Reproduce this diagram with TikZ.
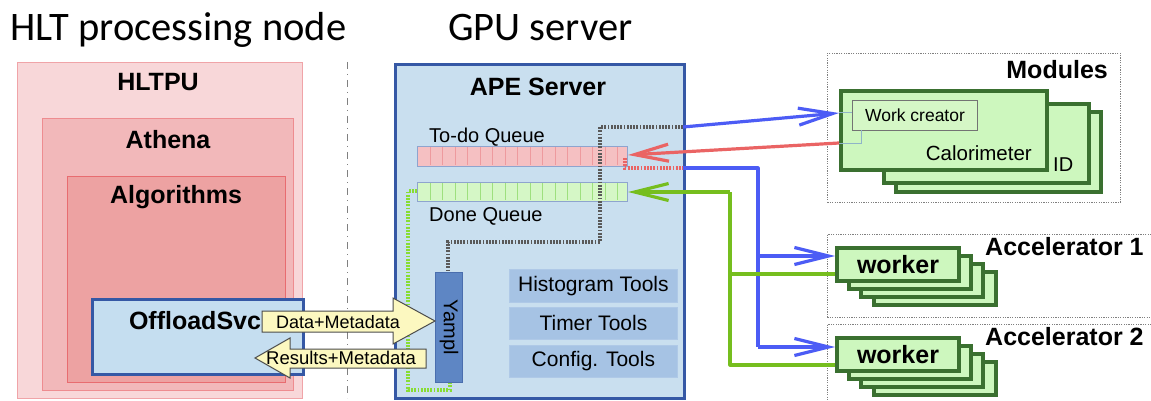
\documentclass[tikz,border=0pt]{standalone}
\usepackage{fontspec}
\setmainfont{Liberation Sans}
\newfontfamily\titlefont{Carlito}
\usetikzlibrary{arrows.meta}

\definecolor{hltfill}{HTML}{F8D7D9}
\definecolor{hltdraw}{HTML}{F0A4A8}
\definecolor{athfill}{HTML}{F2B8BA}
\definecolor{athdraw}{HTML}{EE8C90}
\definecolor{algfill}{HTML}{EDA2A2}
\definecolor{algdraw}{HTML}{E86C70}
\definecolor{boxblue}{HTML}{3558A5}
\definecolor{offfill}{HTML}{C5DEF0}
\definecolor{apefill}{HTML}{C9DFEF}
\definecolor{toolfill}{HTML}{A6C3E4}
\definecolor{yamplfill}{HTML}{5E86C4}
\definecolor{yampldraw}{HTML}{4A6EAE}
\definecolor{todofill}{HTML}{F5C0C2}
\definecolor{todocell}{HTML}{EE9A9E}
\definecolor{queuedraw}{HTML}{8EA4CE}
\definecolor{donefill}{HTML}{D5F7C6}
\definecolor{donecell}{HTML}{9EE07E}
\definecolor{modfill}{HTML}{CDF7BE}
\definecolor{moddraw}{HTML}{3A7030}
\definecolor{flowblue}{HTML}{4C5CF5}
\definecolor{flowred}{HTML}{EA6464}
\definecolor{flowgreen}{HTML}{76BE1E}
\definecolor{dotgreen}{HTML}{88DD33}
\definecolor{msgfill}{HTML}{FCF8C0}
\definecolor{linkblue}{HTML}{8FB4C8}

\begin{document}
\begin{tikzpicture}[x=1pt,y=-1pt,
  rbox/.style={draw, rectangle, anchor=north west, inner sep=0pt},
  layer/.style={rbox, line width=1.2pt},
  bluebox/.style={rbox, draw=boxblue, line width=3pt},
  toolbox/.style={rbox, draw=toolfill!90!white, fill=toolfill, line width=0.8pt},
  queuebar/.style={rbox, draw=queuedraw, line width=1pt},
  frame/.style={rbox, draw=gray, line width=0.9pt, dash pattern=on 1.2pt off 1.2pt},
  modbox/.style={rbox, draw=moddraw, fill=modfill, line width=4pt},
  heading/.style={font=\bfseries\fontsize{25}{28}\selectfont, inner sep=0pt},
  plain/.style={font=\fontsize{20}{24}\selectfont, inner sep=0pt},
  title/.style={font=\titlefont\fontsize{40.5}{44}\selectfont, inner sep=0pt, anchor=base west},
  barb/.style={-{Straight Barb[length=34pt,width=17pt,line width=3.2pt]}},
  flow/.style={line width=3.2pt, line join=round},
  dotted path/.style={line width=3.2pt, dash pattern=on 1.8pt off 1.4pt},
  msg/.style={draw=black!70, fill=msgfill, line width=1pt, line join=miter}
]
\useasboundingbox[fill=white] (0,0) rectangle (1151,401);

% section titles and divider
\node[title] (t1) at (10,41) {HLT processing node};
\node[title] (t2) at (448,41) {GPU server};
\draw[gray, line width=1pt, dash pattern=on 7pt off 5pt on 1pt off 5pt] (347,62) -- (347,398);

% HLT processing node: nested layers
\node[layer, draw=hltdraw, fill=hltfill, minimum width=285pt, minimum height=336pt] (hltpu) at (17,62) {};
\node[layer, draw=athdraw, fill=athfill, minimum width=251pt, minimum height=272pt] (athena) at (42,118) {};
\node[layer, draw=algdraw, fill=algfill, minimum width=218pt, minimum height=206pt] (algs) at (67,176) {};
\node[bluebox, fill=offfill, minimum width=211pt, minimum height=75pt] (offload) at (91,298) {};
\node[heading] (hltpulbl) at (158,82) {HLTPU};
\node[heading] (athlbl) at (168,140) {Athena};
\node[heading] (alglbl) at (176,197) {Algorithms};
\node[heading] (offlbl) at (195,321) {OffloadSvc};

% APE server
\node[bluebox, fill=apefill, minimum width=289pt, minimum height=334pt] (ape) at (394,63) {};
\node[heading] (apelbl) at (538,87) {APE Server};

% queues
\node[queuebar, fill=todofill, minimum width=210pt, minimum height=20pt] (todo) at (417,146) {};
\foreach \i in {0,...,15} \draw[todocell, line width=1pt] (430+12.5*\i,147) -- (430+12.5*\i,165);
\node[queuebar, fill=donefill, minimum width=210pt, minimum height=19pt] (done) at (417,182) {};
\foreach \i in {0,...,15} \draw[donecell, line width=1pt] (430+12.5*\i,183) -- (430+12.5*\i,200);
\node[plain, anchor=west] (todolbl) at (429,137) {To-do Queue};
\node[plain, anchor=west] (donelbl) at (429,216) {Done Queue};

% yampl and tools
\node[rbox, draw=yampldraw, fill=yamplfill, line width=1pt, minimum width=27pt, minimum height=110pt] (yampl) at (435,272) {};
\node[plain, rotate=-90] (yampllbl) at (yampl.center) {Yampl};
\node[toolbox, minimum width=168pt, minimum height=33pt] (hist) at (509,269) {};
\node[toolbox, minimum width=168pt, minimum height=32pt] (timer) at (509,307) {};
\node[toolbox, minimum width=168pt, minimum height=32pt] (config) at (509,345) {};
\node[plain, font=\fontsize{21}{24}\selectfont] at (hist.center) {Histogram Tools};
\node[plain, font=\fontsize{21}{24}\selectfont] at (timer.center) {Timer Tools};
\node[plain, font=\fontsize{21}{24}\selectfont] at (config.center) {Config. Tools};

% internal dotted paths
\coordinate (gtap) at (683,127);
\coordinate (rtap) at (683,168);
\draw[dotted path, black!65] (gtap) -- (600,127) -- (600,242) -- (448,242) -- (yampl.north -| 448,0);
\draw[dotted path, flowred] (625,158) -- (625,168) -- (rtap);
\draw[dotted path, dotgreen] (done.west |- 0,191) -- (408,191) -- (408,390) -- (450,390) -- (yampl.south -| 450,0);

% modules
\node[frame, minimum width=293pt, minimum height=149pt] (modframe) at (827,53) {};
\node[heading, anchor=east] (modlbl) at (1108,70) {Modules};
\node[modbox, minimum width=205pt, minimum height=80pt] (mod3) at (894,110) {};
\node[modbox, minimum width=205pt, minimum height=79pt] (mod2) at (882,102) {};
\node[modbox, minimum width=206pt, minimum height=79pt] (calo) at (839,89) {};
\node[rbox, draw=black!55, fill=donefill, line width=1pt, minimum width=125pt, minimum height=30pt] (wc) at (852,100) {};
\node[plain, font=\fontsize{17.5}{20}\selectfont] at (wc.center) {Work creator};
\node[plain, anchor=east, font=\fontsize{20.5}{24}\selectfont] (calolbl) at (1032,153) {Calorimeter};
\node[plain, anchor=west] (idlbl) at (1053,165) {ID};
\draw[linkblue, line width=1pt] (calo.west |- 0,113) -- (wc.west |- 0,113);
\draw[linkblue, line width=1pt] (861,130) -- (861,144) -- (calo.west |- 0,144);

% accelerators
\node[frame, minimum width=340pt, minimum height=83pt] (acc1) at (827,234) {};
\node[frame, minimum width=340pt, minimum height=95pt] (acc2) at (827,324) {};
\node[heading, anchor=west] (acc1lbl) at (985,247) {Accelerator 1};
\node[heading, anchor=west] (acc2lbl) at (985,337) {Accelerator 2};
\foreach \dx/\dy/\n in {37/24/d,24/16/c,12/8/b} {
  \node[modbox, minimum width=122pt, minimum height=33pt] (wa\n) at (835+\dx,246+\dy) {};
  \node[modbox, minimum width=122pt, minimum height=33pt] (wb\n) at (835+\dx,336+\dy) {};
}
\node[modbox, minimum width=122pt, minimum height=33pt] (worka) at (835,246) {};
\node[modbox, minimum width=122pt, minimum height=33pt] (workb) at (835,336) {};
\node[heading] at (worka.center) {worker};
\node[heading] at (workb.center) {worker};

% flows between server, modules and workers
\draw[flow, flowblue, barb] (gtap) -- (calo.west |- 0,113);
\draw[flow, flowred, barb] (calo.west |- 0,143) -- (todo.east |- 0,155);
\draw[flow, flowblue] (rtap) -- (758,168) -- (758,347);
\draw[flow, flowblue, barb] (758,347) -- (workb.west |- 0,347);
\draw[flow, flowblue, barb] (758,256) -- (worka.west |- 0,256);
\draw[flow, flowgreen] (workb.west |- 0,365) -- (730,365) -- (730,192);
\draw[flow, flowgreen, barb] (730,192) -- (done.east |- 0,192);
\draw[flow, flowgreen] (worka.west |- 0,274) -- (730,274);

% messages between OffloadSvc and Yampl
\draw[msg] (262,311) -- (393,311) -- (393,298) -- (435,321) -- (393,344) -- (393,332) -- (262,332) -- cycle;
\node[plain, font=\fontsize{18}{21}\selectfont] (datalbl) at (338,322) {Data+Metadata};
\draw[msg] (426,349) -- (290,349) -- (290,338) -- (255,358) -- (290,378) -- (290,368) -- (426,368) -- cycle;
\node[plain, font=\fontsize{18.5}{21}\selectfont] (reslbl) at (341,358) {Results+Metadata};
\end{tikzpicture}
\end{document}
